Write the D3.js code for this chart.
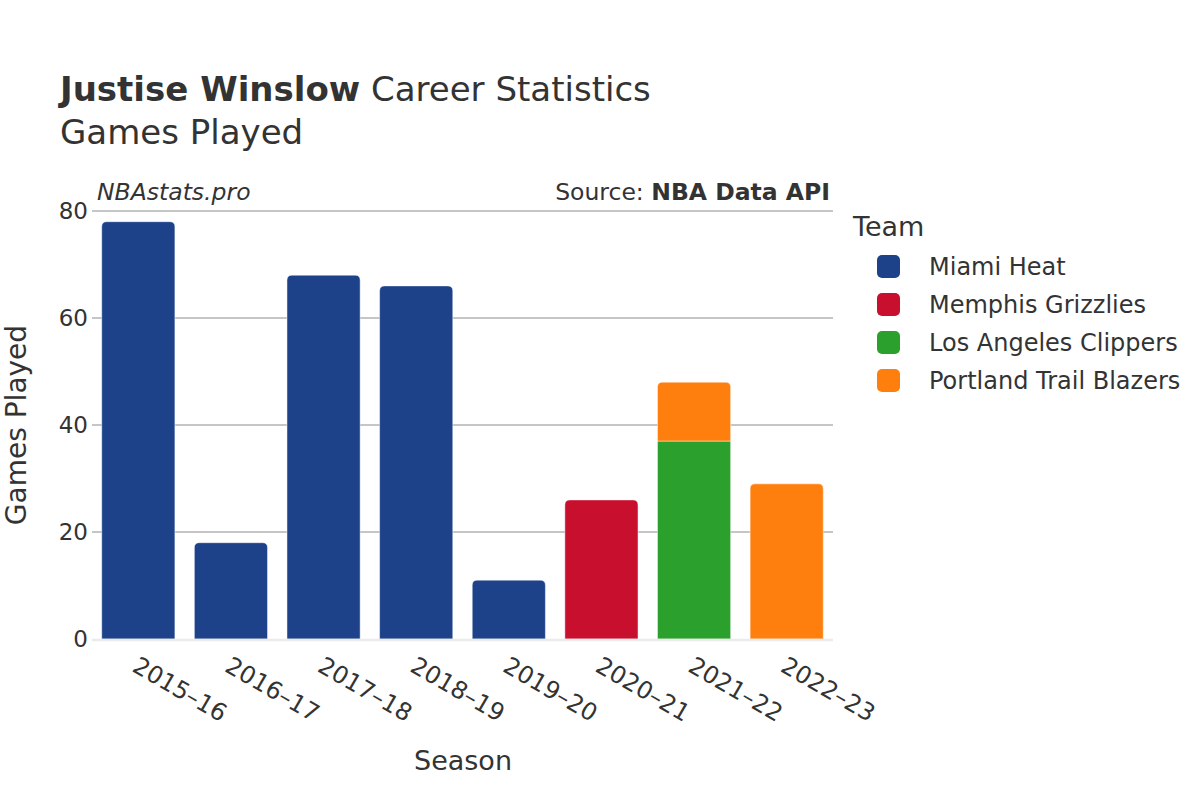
<!DOCTYPE html>
<html>
<head>
<meta charset="utf-8">
<script src="https://cdn.jsdelivr.net/npm/d3@7"></script>
<style>
  body { margin: 0; background: #fff; }
  text { font-family: "DejaVu Sans", sans-serif; fill: #333; }
</style>
</head>
<body>
<div id="chart"></div>
<script>
// data
const seasons = ["2015–16", "2016–17", "2017–18", "2018–19", "2019–20", "2020–21", "2021–22", "2022–23"];
const teams = ["Miami Heat", "Memphis Grizzlies", "Los Angeles Clippers", "Portland Trail Blazers"];
const teamColors = ["#1d428a", "#c8102e", "#2ca02c", "#ff7f0e"];
const miamiHeat = [78, 18, 68, 66, 11, 0, 0, 0];
const memphisGrizzlies = [0, 0, 0, 0, 0, 26, 0, 0];
const laClippers = [0, 0, 0, 0, 0, 0, 37, 0];
const portlandBlazers = [0, 0, 0, 0, 0, 0, 11, 29];
const yTicks = [0, 20, 40, 60, 80];

function renderChart() {
  const svg = d3.select("#chart")
    .append("svg")
    .attr("width", 1200)
    .attr("height", 800);

  const left = 92, right = 833, top = 211, bottom = 639;

  const x = d3.scaleBand()
    .domain(seasons)
    .range([left, right])
    .paddingInner(0.21)
    .paddingOuter(0.105);

  const y = d3.scaleLinear()
    .domain([0, 80])
    .range([bottom, top]);

  // gridlines
  svg.append("g")
    .selectAll("line")
    .data(yTicks.filter(d => d > 0))
    .enter().append("line")
    .attr("x1", left)
    .attr("x2", right)
    .attr("y1", d => y(d))
    .attr("y2", d => y(d))
    .attr("stroke", "#8c8c8c")
    .attr("stroke-width", 1);

  // stack the series
  const rows = seasons.map((s, i) => ({
    season: s,
    "Miami Heat": miamiHeat[i],
    "Memphis Grizzlies": memphisGrizzlies[i],
    "Los Angeles Clippers": laClippers[i],
    "Portland Trail Blazers": portlandBlazers[i]
  }));
  const stacked = d3.stack().keys(teams)(rows);

  // which segment is the top one per season
  const topKey = rows.map(r => {
    let k = null;
    teams.forEach(t => { if (r[t] > 0) k = t; });
    return k;
  });

  const r = 5;
  function barPath(x0, x1, y0, y1, rounded) {
    if (!rounded) return `M${x0},${y0}V${y1}H${x1}V${y0}Z`;
    return `M${x0},${y0}V${y1 + r}Q${x0},${y1} ${x0 + r},${y1}H${x1 - r}Q${x1},${y1} ${x1},${y1 + r}V${y0}Z`;
  }

  stacked.forEach((layer, li) => {
    svg.append("g")
      .selectAll("path")
      .data(layer.filter(d => d[1] - d[0] > 0))
      .enter().append("path")
      .attr("d", d => {
        const x0 = x(d.data.season), x1 = x0 + x.bandwidth();
        const i = seasons.indexOf(d.data.season);
        return barPath(x0, x1, y(d[0]), y(d[1]), topKey[i] === layer.key);
      })
      .attr("fill", teamColors[li])
      .attr("stroke", "#fff")
      .attr("stroke-opacity", 0.6)
      .attr("stroke-width", 0.8);
  });

  // zero line
  svg.append("line")
    .attr("x1", left).attr("x2", right)
    .attr("y1", y(0) + 1).attr("y2", y(0) + 1)
    .attr("stroke", "#ebebeb")
    .attr("stroke-width", 2.5);

  // y axis tick labels
  svg.append("g")
    .selectAll("text")
    .data(yTicks)
    .enter().append("text")
    .attr("x", left - 4)
    .attr("y", d => y(d))
    .attr("dy", "0.36em")
    .attr("text-anchor", "end")
    .style("font-size", "23px")
    .text(d => d);

  // x axis tick labels, rotated
  svg.append("g")
    .selectAll("text")
    .data(seasons)
    .enter().append("text")
    .attr("transform", d => `translate(${x(d) + x.bandwidth() / 2 + 1},${bottom + 17}) rotate(30)`)
    .attr("dy", "0.7em")
    .attr("text-anchor", "start")
    .style("font-size", "24px")
    .text(d => d);

  // axis titles
  svg.append("text")
    .attr("x", 463)
    .attr("y", 770)
    .attr("text-anchor", "middle")
    .style("font-size", "27px")
    .text("Season");

  svg.append("text")
    .attr("transform", `translate(26,${(top + bottom) / 2}) rotate(-90)`)
    .attr("text-anchor", "middle")
    .style("font-size", "28px")
    .text("Games Played");

  // title
  const title = svg.append("text")
    .attr("x", 60)
    .attr("y", 101)
    .style("font-size", "34px");
  title.append("tspan").style("font-weight", "bold").text("Justise Winslow");
  title.append("tspan").text(" Career Statistics");

  svg.append("text")
    .attr("x", 60)
    .attr("y", 144)
    .style("font-size", "34px")
    .text("Games Played");

  // annotations
  svg.append("text")
    .attr("x", 97)
    .attr("y", 200)
    .style("font-size", "23.5px")
    .style("font-style", "italic")
    .text("NBAstats.pro");

  const src = svg.append("text")
    .attr("x", 830)
    .attr("y", 200)
    .attr("text-anchor", "end")
    .style("font-size", "23.5px");
  src.append("tspan").text("Source: ");
  src.append("tspan").style("font-weight", "bold").text("NBA Data API");

  // legend
  svg.append("text")
    .attr("x", 853)
    .attr("y", 236)
    .style("font-size", "27px")
    .text("Team");

  const legend = svg.append("g")
    .selectAll("g")
    .data(teams)
    .enter().append("g")
    .attr("transform", (d, i) => `translate(877,${266 + i * 38})`);

  legend.append("rect")
    .attr("x", 0)
    .attr("y", -11)
    .attr("width", 23)
    .attr("height", 23)
    .attr("rx", 5)
    .attr("fill", (d, i) => teamColors[i]);

  legend.append("text")
    .attr("x", 52)
    .attr("dy", "0.36em")
    .style("font-size", "24px")
    .text(d => d);
}

document.addEventListener("DOMContentLoaded", renderChart);
</script>
</body>
</html>
